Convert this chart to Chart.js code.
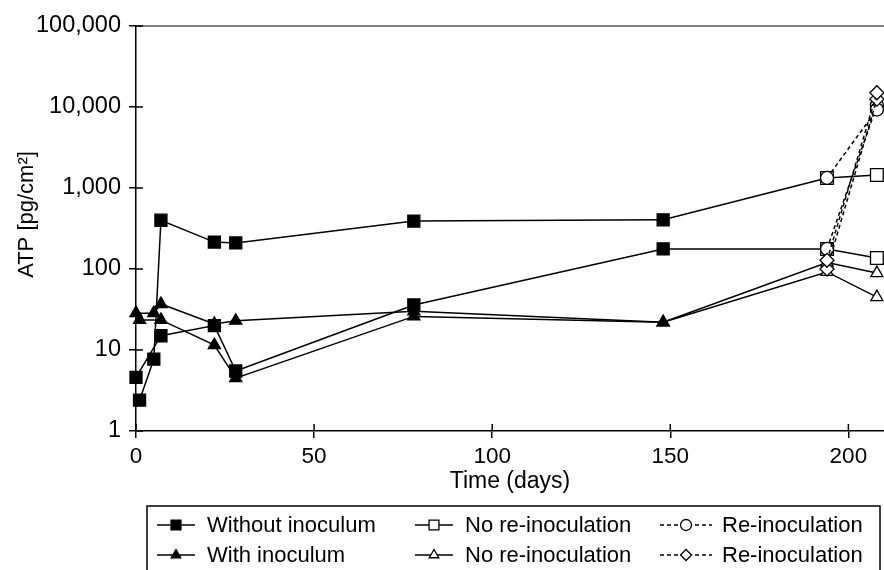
<!DOCTYPE html>
<html>
<head>
<meta charset="utf-8">
<script src="https://cdn.jsdelivr.net/npm/chart.js"></script>
<style>
  html, body { margin: 0; padding: 0; background: #fff; }
  #wrap { width: 884px; height: 570px; }
</style>
</head>
<body>
<div id="wrap"><canvas id="atpChart" width="884" height="570"></canvas></div>
<script>
// ---- data (ATP in pg/cm2, time in days) ----
// without inoculum, two replicate curves (filled squares)
const daysSqA = [1, 5, 7, 22, 28, 78, 148];
const atpSqA = [2.4, 7.7, 400, 215, 210, 390, 405];
const daysSqB = [0, 7, 22, 28, 78, 148];
const atpSqB = [4.6, 15, 20, 5.5, 36, 177];

// with inoculum, two replicate curves (filled triangles)
const daysTriC = [0, 5, 7, 22, 28, 78, 148];
const atpTriC = [28.5, 28.5, 37, 21, 23, 30, 22];
const daysTriD = [1, 7, 22, 28, 78, 148];
const atpTriD = [23.5, 23.5, 11.5, 4.5, 26, 22];

// after day 148: no re-inoculation (solid) / re-inoculation (dashed)
const daysNoRe = [148, 194, 208];
const atpNoReSqA = [405, 1330, 1450];
const atpNoReSqB = [177, 177, 137];
const atpNoReTriC = [22, 120, 89];
const atpNoReTriD = [22, 92, 45];

const daysRe = [194, 208];
const atpReCircA = [1330, 9300];
const atpReCircB = [177, 10500];
const atpReDiaC = [128, 15000];
const atpReDiaD = [100, 12500];

const xTicks = [0, 50, 100, 150, 200];
const yTicks = [1, 10, 100, 1000, 10000, 100000];
const yTitle = "ATP [pg/cm²]";

const FONT = "'Liberation Sans', Arial, Helvetica, sans-serif";
Chart.defaults.font.family = FONT;
Chart.defaults.color = "#000";

function pts(days, vals) {
  return days.map((d, i) => ({ x: d, y: vals[i] }));
}

function series(label, days, vals, style, filled, opts) {
  return Object.assign({
    label: label,
    data: pts(days, vals),
    borderColor: "#000",
    borderWidth: 1.5,
    pointStyle: style,
    pointRadius: 7,
    pointBorderWidth: 1.3,
    pointBorderColor: "#000",
    pointBackgroundColor: filled ? "#000" : "#fff",
    tension: 0,
    clip: false,
    fill: false
  }, opts || {});
}

const hideFirst = [0, 7, 7];
const dash = [4, 3];

// first in the list is drawn on top
const datasets = [
  series("Re-inoculation", daysRe, atpReDiaC, "rectRot", false, { borderDash: dash, legendSlot: 5 }),
  series("Re-inoculation ", daysRe, atpReDiaD, "rectRot", false, { borderDash: dash }),
  series("Re-inoculation", daysRe, atpReCircA, "circle", false, { borderDash: dash, pointRadius: 6.5, legendSlot: 2 }),
  series("Re-inoculation ", daysRe, atpReCircB, "circle", false, { borderDash: dash, pointRadius: 6.5 }),
  series("No re-inoculation", daysNoRe, atpNoReSqA, "rect", false, { pointRadius: [0, 9, 9], legendSlot: 1 }),
  series("No re-inoculation ", daysNoRe, atpNoReSqB, "rect", false, { pointRadius: [0, 9, 9] }),
  series("No re-inoculation", daysNoRe, atpNoReTriC, "triangle", false, { pointRadius: hideFirst, legendSlot: 4 }),
  series("No re-inoculation ", daysNoRe, atpNoReTriD, "triangle", false, { pointRadius: hideFirst }),
  series("Without inoculum", daysSqA, atpSqA, "rect", true, { pointRadius: 8.5, legendSlot: 0 }),
  series("Without inoculum ", daysSqB, atpSqB, "rect", true, { pointRadius: 8.5 }),
  series("With inoculum", daysTriC, atpTriC, "triangle", true, { legendSlot: 3 }),
  series("With inoculum ", daysTriD, atpTriD, "triangle", true)
];

// little marker drawer for the legend box
function drawMarker(ctx, style, x, y, r, filled) {
  ctx.save();
  ctx.beginPath();
  if (style === "rect") {
    const s = r * Math.SQRT1_2;
    ctx.rect(x - s, y - s, 2 * s, 2 * s);
  } else if (style === "rectRot") {
    ctx.moveTo(x, y - r); ctx.lineTo(x + r, y); ctx.lineTo(x, y + r); ctx.lineTo(x - r, y);
    ctx.closePath();
  } else if (style === "triangle") {
    for (let k = 0; k < 3; k++) {
      const a = k * 2 * Math.PI / 3;
      const px = x + Math.sin(a) * r, py = y - Math.cos(a) * r;
      if (k === 0) ctx.moveTo(px, py); else ctx.lineTo(px, py);
    }
    ctx.closePath();
  } else {
    ctx.arc(x, y, r, 0, Math.PI * 2);
  }
  ctx.setLineDash([]);
  ctx.fillStyle = filled ? "#000" : "#fff";
  ctx.fill();
  ctx.lineWidth = 1.3;
  ctx.strokeStyle = "#000";
  ctx.stroke();
  ctx.restore();
}

// frame pieces: top border, inward tick marks, y title (sits a bit above centre)
const framePlugin = {
  id: "frame",
  beforeDatasetsDraw(chart, args, o) {
    const { ctx, chartArea } = chart;
    const xs = chart.scales.x, ys = chart.scales.y;
    ctx.save();
    ctx.strokeStyle = "#555";
    ctx.lineWidth = 1.5;
    ctx.beginPath();
    ctx.moveTo(chartArea.left, chartArea.top);
    ctx.lineTo(chartArea.right, chartArea.top);
    ctx.stroke();
    ctx.strokeStyle = "#000";
    ctx.beginPath();
    ys.ticks.forEach(t => {
      const py = ys.getPixelForValue(t.value);
      ctx.moveTo(chartArea.left, py);
      ctx.lineTo(chartArea.left + 7, py);
    });
    xs.ticks.forEach(t => {
      const px = xs.getPixelForValue(t.value);
      ctx.moveTo(px, chartArea.bottom);
      ctx.lineTo(px, chartArea.bottom - 7);
    });
    ctx.stroke();

    ctx.translate(o.titleX, (chartArea.top + chartArea.bottom) / 2 - o.titleLift);
    ctx.rotate(-Math.PI / 2);
    ctx.font = o.fontSize + "px " + FONT;
    ctx.fillStyle = "#000";
    ctx.textAlign = "center";
    ctx.textBaseline = "middle";
    ctx.fillText(yTitle, 0, 0);
    ctx.restore();
  }
};

// boxed legend, 3 columns x 2 rows
const boxLegend = {
  id: "boxLegend",
  afterDraw(chart, args, o) {
    const ctx = chart.ctx;
    const items = chart.data.datasets
      .filter(d => d.legendSlot !== undefined)
      .sort((a, b) => a.legendSlot - b.legendSlot);
    ctx.save();
    ctx.strokeStyle = "#000";
    ctx.lineWidth = 1.5;
    ctx.strokeRect(o.left, o.top, o.right - o.left, chart.height - o.top + 5);
    ctx.font = o.fontSize + "px " + FONT;
    ctx.textBaseline = "middle";
    ctx.fillStyle = "#000";
    items.forEach((d, i) => {
      const col = i % 3, row = Math.floor(i / 3);
      const cx = o.markX[col], cy = o.rowY[row];
      const half = d.borderDash ? o.dashHalf : o.lineHalf;
      ctx.save();
      ctx.lineWidth = 1.5;
      ctx.setLineDash(d.borderDash || []);
      ctx.beginPath();
      ctx.moveTo(cx - half, cy);
      ctx.lineTo(cx + half, cy);
      ctx.stroke();
      ctx.restore();
      const r = d.pointStyle === "rect" ? 7 : 5.5;
      drawMarker(ctx, d.pointStyle, cx, cy, r, d.pointBackgroundColor === "#000");
      ctx.fillText(d.label.trim(), o.textX[col], cy + 1);
    });
    ctx.restore();
  }
};

new Chart(document.getElementById("atpChart"), {
  type: "line",
  data: { datasets: datasets },
  plugins: [framePlugin, boxLegend],
  options: {
    responsive: false,
    animation: false,
    events: [],
    layout: { autoPadding: false, padding: { left: 0, right: 0, top: 26, bottom: 66 } },
    plugins: {
      legend: { display: false },
      tooltip: { enabled: false },
      frame: { titleX: 27, titleLift: 14, fontSize: 22 },
      boxLegend: {
        left: 147, top: 506, right: 880,
        rowY: [525, 555],
        markX: [176, 434, 686],
        textX: [207, 465, 722],
        lineHalf: 19, dashHalf: 26,
        fontSize: 22
      }
    },
    scales: {
      x: {
        type: "linear",
        min: 0,
        max: 210,
        afterBuildTicks(s) { s.ticks = xTicks.map(v => ({ value: v })); },
        afterFit(s) { s.height = 73; s.paddingRight = 0; s.paddingLeft = 0; },
        ticks: { font: { size: 22.5 }, color: "#000", padding: 5, maxRotation: 0, includeBounds: false },
        grid: { drawOnChartArea: false, drawTicks: true, tickLength: 7, color: "#000", lineWidth: 1.5 },
        border: { display: true, color: "#000", width: 1.5 },
        title: { display: true, text: "Time (days)", color: "#000", font: { size: 23 }, padding: { top: 0, bottom: 9 } }
      },
      y: {
        type: "logarithmic",
        min: 1,
        max: 100000,
        afterBuildTicks(s) { s.ticks = yTicks.map(v => ({ value: v })); },
        afterFit(s) { s.width = 136; s.paddingTop = 0; s.paddingBottom = 0; },
        ticks: {
          font: { size: 23.5 },
          color: "#000",
          padding: 8,
          callback: v => Number(v).toLocaleString("en-US")
        },
        grid: { drawOnChartArea: false, drawTicks: true, tickLength: 7, color: "#000", lineWidth: 1.5 },
        border: { display: true, color: "#000", width: 1.5 },
        title: { display: false }
      }
    }
  }
});
</script>
</body>
</html>
